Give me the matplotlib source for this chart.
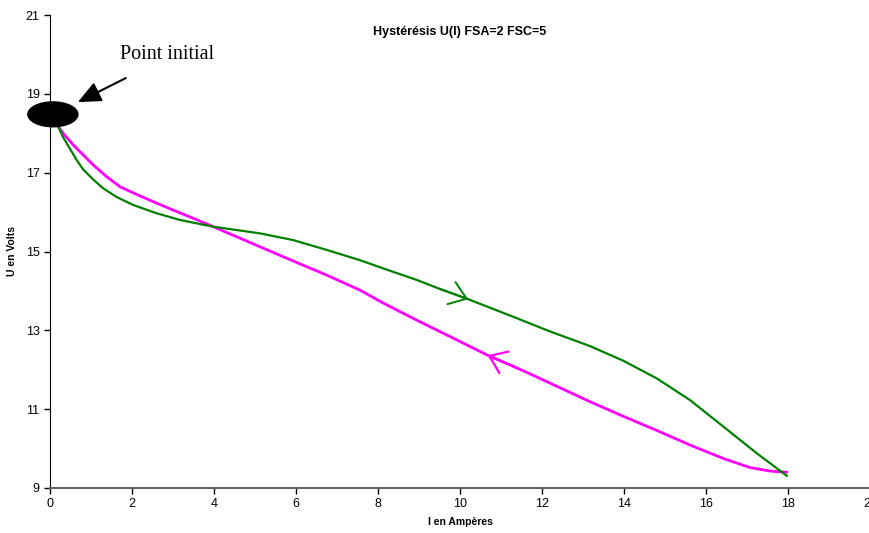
import numpy as np
import matplotlib
matplotlib.use('Agg')
import matplotlib.pyplot as plt
from matplotlib.patches import Ellipse

# Courbe aller (vert)
i_aller = [0.20, 0.32, 0.49, 0.65, 0.81, 1.06, 1.30, 1.63, 2.03, 2.60, 3.17, 3.98,
           5.12, 5.93, 6.75, 7.56, 8.13, 8.94, 9.51, 10.20, 11.38, 12.20, 13.17,
           13.98, 14.80, 15.61, 16.42, 17.24, 17.97]
u_aller = [18.17, 17.90, 17.60, 17.32, 17.08, 16.82, 16.60, 16.38, 16.18, 15.97, 15.80, 15.63,
           15.46, 15.29, 15.04, 14.78, 14.57, 14.28, 14.05, 13.79, 13.31, 12.97, 12.60,
           12.23, 11.78, 11.23, 10.56, 9.88, 9.31]

# Courbe retour (magenta)
i_retour = [0.20, 0.32, 0.57, 0.81, 1.06, 1.38, 1.71, 2.11, 2.44, 2.89, 3.50, 3.98,
            5.12, 5.93, 6.75, 7.56, 8.13, 8.94, 9.76, 10.67, 11.38, 11.99, 13.17,
            13.98, 14.80, 15.61, 16.42, 17.07, 17.56, 17.97]
u_retour = [18.17, 18.00, 17.70, 17.45, 17.19, 16.90, 16.64, 16.45, 16.30, 16.10, 15.84, 15.63,
            15.12, 14.76, 14.40, 14.02, 13.69, 13.26, 12.84, 12.37, 12.05, 11.76, 11.19,
            10.82, 10.46, 10.09, 9.75, 9.52, 9.43, 9.40]

x_ticks = np.arange(0, 21, 2)
y_ticks = np.arange(9, 22, 2)

fig = plt.figure(figsize=(8.7, 5.33), dpi=100)
ax = fig.add_axes([50 / 870, 1 - 488 / 533, 820 / 870, 473 / 533])

ax.plot(i_aller, u_aller, color='#008000', lw=1.6, zorder=3, solid_joinstyle='round')
ax.plot(i_retour, u_retour, color='#FF00FF', lw=2.0, zorder=2, solid_joinstyle='round')

# fleches de sens de parcours
ax.annotate('', xy=(10.20, 13.79), xytext=(9.51, 14.05),
            arrowprops=dict(arrowstyle='->,head_length=0.58,head_width=0.42',
                            mutation_scale=20, color='#008000', lw=1.4,
                            shrinkA=0, shrinkB=0))
ax.annotate('', xy=(10.67, 12.37), xytext=(11.38, 12.05),
            arrowprops=dict(arrowstyle='->,head_length=0.58,head_width=0.42',
                            mutation_scale=20, color='#FF00FF', lw=1.6,
                            shrinkA=0, shrinkB=0))

# point initial
ax.add_patch(Ellipse((0.07, 18.48), 1.22, 0.63, color='black', clip_on=False, zorder=5))
ax.annotate('', xy=(0.68, 18.79), xytext=(1.85, 19.40),
            arrowprops=dict(arrowstyle='-|>,head_length=1.0,head_width=0.45',
                            mutation_scale=14, color='black', lw=1.5,
                            shrinkA=0, shrinkB=0))
ax.text(1.7, 19.75, 'Point initial', family='Liberation Serif', fontsize=14.5,
        ha='left', va='bottom')

ax.set_xlim(0, 20)
ax.set_ylim(9, 21)
ax.set_xticks(x_ticks)
ax.set_yticks(y_ticks)
ax.tick_params(labelsize=9, direction='out', length=4, width=1)
for lab in ax.get_xticklabels() + ax.get_yticklabels():
    lab.set_family('Liberation Sans')

ax.spines['top'].set_visible(False)
ax.spines['right'].set_visible(False)
ax.spines['left'].set_color('black')
ax.spines['bottom'].set_color('#666666')
ax.spines['bottom'].set_linewidth(1.5)

ax.text(0.5, 0.964, 'Hystérésis U(I) FSA=2 FSC=5', transform=ax.transAxes,
        family='Liberation Sans', fontsize=9, fontweight='bold', ha='center', va='center')
ax.set_xlabel('I en Ampères', family='Liberation Sans', fontsize=7.5, fontweight='bold', labelpad=5)
ax.set_ylabel('U en Volts', family='Liberation Sans', fontsize=7.5, fontweight='bold', labelpad=6)

fig.savefig('out.png', dpi=100)
